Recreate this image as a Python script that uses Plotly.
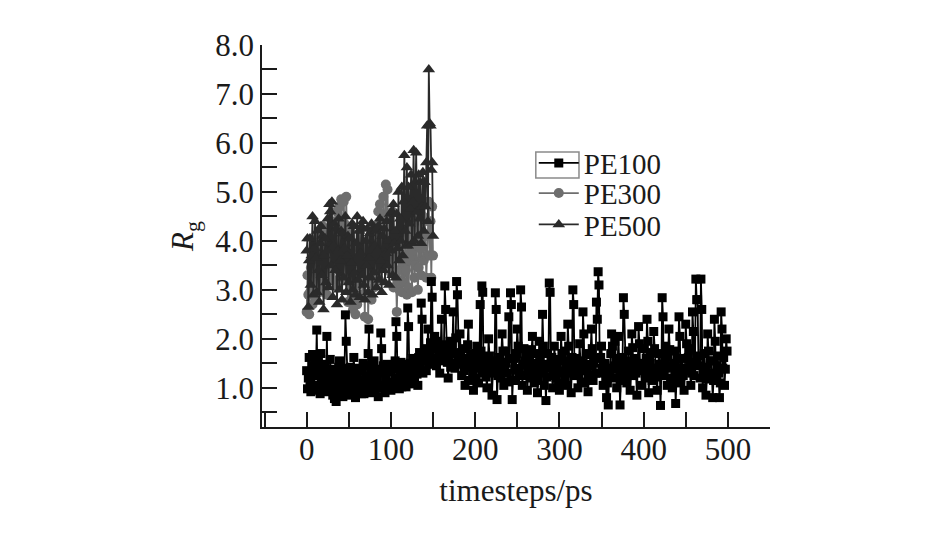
import plotly.graph_objects as go

# ---------------- data (1 ps sampling) ----------------
pe100 = [
    1.35, 0.98, 1.20, 1.62, 1.10, 0.92, 1.45, 1.68, 1.25, 0.95, 1.52, 1.30, 2.18, 1.05, 1.62, 1.45, 0.88, 1.70, 1.12, 1.38,
    1.25, 1.02, 1.48, 0.92, 2.05, 1.12, 1.35, 0.95, 1.58, 1.20, 1.38, 0.85, 1.15, 0.78, 1.30, 0.72, 1.05, 1.20, 1.42, 1.55,
    0.90, 1.18, 1.28, 0.82, 1.05, 1.40, 2.49, 1.95, 1.15, 0.98, 0.85, 1.25, 1.42, 0.90, 1.00, 1.35, 1.62, 1.08, 0.80, 1.22,
    1.18, 0.92, 1.40, 1.05, 1.35, 0.88, 1.08, 1.50, 0.88, 1.15, 1.45, 0.96, 1.02, 1.70, 2.20, 1.10, 1.32, 0.90, 1.18, 1.42,
    1.55, 0.95, 1.25, 1.10, 1.22, 0.82, 1.38, 1.00, 2.12, 1.80, 1.05, 1.45, 1.30, 0.90, 1.15, 1.48, 1.05, 1.32, 1.12, 0.98,
    0.95, 1.42, 1.38, 1.08, 1.05, 1.55, 2.35, 2.05, 1.20, 1.45, 0.98, 1.30, 1.52, 1.02, 1.10, 1.48, 1.30, 1.18, 1.02, 1.40,
    2.63, 2.25, 1.25, 1.50, 1.08, 1.35, 1.60, 1.22, 1.15, 1.55, 1.40, 1.28, 1.05, 1.62, 1.72, 1.45, 2.73, 2.40, 1.30, 1.58,
    1.55, 1.80, 1.35, 1.62, 2.20, 1.48, 1.70, 1.92, 3.17, 2.85, 1.60, 1.82, 2.05, 1.55, 1.45, 1.95, 1.85, 1.62, 1.30, 1.75,
    2.40, 1.65, 1.55, 1.88, 3.08, 2.60, 1.75, 1.52, 1.20, 1.68, 1.95, 1.42, 1.50, 1.85, 2.55, 1.70, 1.40, 2.02, 3.17, 2.90,
    1.65, 1.48, 2.10, 1.72, 1.25, 1.60, 1.80, 1.35, 1.05, 1.50, 1.55, 1.88, 2.30, 1.42, 1.15, 1.62, 1.70, 1.30, 0.95, 1.45,
    1.45, 1.20, 1.85, 1.58, 1.10, 1.40, 2.70, 1.75, 3.08, 2.95, 1.30, 1.55, 1.60, 1.22, 1.00, 1.38, 2.00, 1.65, 1.35, 1.48,
    0.85, 1.30, 1.55, 1.40, 2.94, 2.60, 0.76, 1.25, 1.45, 1.62, 1.20, 1.52, 2.10, 1.75, 1.05, 1.32, 1.75, 1.50, 1.30, 1.12,
    2.45, 1.60, 2.94, 2.70, 0.76, 1.15, 1.60, 1.38, 1.15, 1.70, 2.20, 1.85, 1.40, 1.25, 3.00, 2.65, 1.05, 1.48, 1.80, 1.55,
    1.25, 1.62, 0.95, 1.40, 1.65, 1.20, 1.35, 1.78, 2.05, 1.50, 1.10, 1.32, 1.50, 1.70, 0.90, 1.15, 1.95, 1.60, 1.30, 1.45,
    2.50, 1.85, 1.05, 1.40, 0.74, 1.22, 1.70, 1.48, 3.14, 2.95, 1.40, 1.62, 1.00, 1.25, 1.85, 1.58, 1.20, 1.42, 1.55, 1.10,
    0.95, 1.35, 2.05, 1.70, 1.30, 1.55, 1.75, 1.20, 1.05, 1.45, 2.30, 1.85, 1.45, 1.30, 0.90, 1.62, 3.00, 2.70, 1.25, 1.50,
    1.60, 1.35, 1.00, 1.28, 1.90, 1.55, 1.35, 1.12, 2.55, 2.10, 1.10, 1.48, 1.70, 1.40, 0.92, 1.25, 1.45, 1.68, 2.20, 1.80,
    1.15, 1.50, 1.60, 1.30, 2.75, 2.40, 3.37, 3.10, 1.30, 1.62, 1.85, 1.40, 1.05, 1.32, 1.50, 1.20, 0.80, 1.10, 0.65, 1.25,
    1.40, 1.70, 2.10, 1.85, 1.20, 1.45, 1.95, 1.60, 1.00, 1.38, 2.05, 1.55, 0.65, 1.15, 1.30, 1.62, 2.84, 2.50, 1.45, 1.25,
    1.10, 1.55, 1.75, 1.40, 0.95, 1.28, 2.10, 1.82, 1.25, 1.60, 1.55, 1.30, 0.85, 1.45, 2.25, 1.90, 1.35, 1.50, 1.05, 1.38,
    1.80, 1.45, 1.20, 1.60, 2.40, 1.95, 0.90, 1.30, 1.50, 1.72, 1.15, 1.40, 2.15, 1.80, 1.40, 1.22, 0.95, 1.35, 1.70, 1.48,
    0.64, 1.25, 2.84, 2.45, 1.25, 1.55, 1.85, 1.40, 1.05, 1.62, 2.20, 1.78, 1.45, 1.20, 1.00, 1.42, 1.75, 1.50, 0.68, 1.15,
    1.30, 1.58, 2.45, 2.05, 1.10, 1.40, 1.60, 1.25, 0.95, 1.35, 2.30, 1.90, 1.35, 1.62, 1.80, 1.45, 1.05, 1.30, 2.55, 2.15,
    1.25, 1.52, 3.22, 2.80, 2.80, 1.65, 1.45, 1.20, 3.22, 2.60, 1.00, 1.35, 1.70, 1.42, 0.85, 1.18, 2.10, 1.75, 1.30, 1.55,
    1.55, 1.28, 0.80, 1.15, 2.40, 1.95, 1.15, 1.45, 1.65, 1.30, 0.80, 1.10, 2.55, 2.20, 1.40, 1.62, 1.05, 1.38, 2.00, 1.75,
]
t_pe100 = list(range(len(pe100)))

pe300 = [
    2.55, 3.30, 2.90, 2.50, 2.95, 3.45, 3.60, 2.70, 3.10, 3.85, 2.85, 3.25, 3.40, 4.05, 3.60, 2.95, 3.75, 3.20, 3.10, 4.30,
    3.00, 3.55, 3.90, 4.20, 2.90, 3.35, 4.10, 3.60, 3.35, 3.80, 4.30, 3.40, 3.20, 4.40, 3.70, 4.60, 4.15, 3.05, 3.55, 4.70,
    3.75, 4.85, 4.40, 3.60, 4.80, 4.35, 3.20, 4.90, 3.75, 2.75, 4.20, 3.60, 3.10, 3.70, 2.85, 2.60, 3.95, 3.30, 2.50, 3.30,
    2.70, 3.10, 3.85, 3.15, 3.55, 4.25, 2.90, 3.25, 3.60, 2.45, 3.80, 3.25, 3.90, 2.40, 3.50, 4.10, 3.35, 2.80, 3.70, 4.20,
    3.05, 3.60, 4.30, 3.45, 3.95, 4.60, 3.20, 4.75, 4.40, 3.45, 4.10, 4.90, 4.30, 3.85, 5.15, 4.35, 5.05, 3.50, 4.40, 3.95,
    3.35, 4.05, 4.60, 3.05, 3.70, 4.15, 3.40, 2.55, 3.20, 3.70, 3.00, 3.65, 4.25, 2.95, 3.40, 3.55, 3.15, 4.10, 3.40, 2.90,
    4.45, 3.05, 3.60, 4.65, 3.70, 2.95, 3.80, 4.20, 3.25, 3.50, 4.40, 3.90, 3.00, 3.45, 4.60, 3.85, 3.30, 4.05, 4.50, 3.60,
    4.80, 4.10, 3.25, 3.70, 4.40, 4.80, 3.70, 4.40, 3.25, 4.70, 3.70,
]
t_pe300 = list(range(len(pe300)))

pe500 = [
    3.80, 4.05, 2.65, 3.60, 4.05, 3.10, 3.70, 4.50, 2.90, 3.85, 4.40, 3.65, 2.95, 4.20, 3.40, 2.75, 3.95, 4.30, 3.30, 4.10,
    2.60, 3.70, 4.05, 3.15, 3.80, 4.45, 3.05, 4.75, 4.60, 3.50, 4.80, 2.85, 3.90, 4.35, 3.40, 4.25, 2.70, 3.80, 4.45, 3.00,
    3.60, 4.20, 2.80, 4.15, 3.25, 3.85, 4.50, 2.95, 3.70, 4.10, 3.15, 4.05, 2.75, 3.55, 4.35, 3.00, 4.30, 3.35, 2.90, 3.95,
    4.50, 3.20, 4.20, 2.85, 3.75, 4.30, 3.30, 4.40, 3.10, 2.80, 4.00, 3.50, 4.25, 2.95, 3.65, 4.15, 3.25, 4.35, 2.90, 4.25,
    3.35, 3.90, 4.20, 3.05, 3.80, 4.30, 3.20, 4.45, 3.60, 2.95, 4.10, 3.40, 4.25, 3.15, 3.75, 4.40, 3.50, 4.00, 3.10, 4.55,
    3.80, 4.60, 3.30, 4.75, 3.95, 4.20, 3.25, 4.55, 3.85, 5.00, 3.60, 4.45, 4.00, 5.10, 3.70, 4.80, 5.75, 4.20, 3.90, 5.50,
    3.90, 5.10, 4.35, 4.65, 5.35, 3.95, 4.80, 5.85, 4.00, 5.20, 5.80, 4.60, 4.10, 5.35, 4.45, 5.20, 3.95, 4.70, 5.40, 4.20,
    5.20, 4.70, 5.60, 6.35, 4.40, 7.50, 6.40, 6.35, 5.45, 5.60, 4.10,
]
t_pe500 = list(range(len(pe500)))

series_names = ["PE100", "PE300", "PE500"]
x_tickvals = [0, 100, 200, 300, 400, 500]
y_tickvals = [1.0, 2.0, 3.0, 4.0, 5.0, 6.0, 7.0, 8.0]
y_ticktext = ["1.0", "2.0", "3.0", "4.0", "5.0", "6.0", "7.0", "8.0"]

FONT = "Liberation Serif, Times New Roman, serif"
AX = "#1a1a1a"

fig = go.Figure()

fig.add_trace(go.Scatter(
    x=t_pe300, y=pe300, name=series_names[1], mode="lines+markers",
    line=dict(color="#6e6e6e", width=1.8),
    marker=dict(symbol="circle", size=10, color="#6e6e6e"),
    legend="legend2",
))
fig.add_trace(go.Scatter(
    x=t_pe500, y=pe500, name=series_names[2], mode="lines+markers",
    line=dict(color="#2a2a2a", width=1.8),
    marker=dict(symbol="triangle-up", size=11, color="#2a2a2a"),
    legend="legend3",
))
fig.add_trace(go.Scatter(
    x=t_pe100, y=pe100, name=series_names[0], mode="lines+markers",
    line=dict(color="#000000", width=1.8),
    marker=dict(symbol="square", size=9, color="#000000"),
    legend="legend",
))

leg_common = dict(xanchor="left", yanchor="middle", bgcolor="rgba(0,0,0,0)",
                  font=dict(size=29, family=FONT, color=AX), itemwidth=40)

fig.update_layout(
    width=945, height=544,
    margin=dict(l=254, r=183, t=37, b=125),
    paper_bgcolor="white", plot_bgcolor="white",
    font=dict(family=FONT, size=31, color=AX),
    showlegend=True,
    legend=dict(x=0.535, y=0.691, **leg_common),
    legend2=dict(x=0.535, y=0.612, **leg_common),
    legend3=dict(x=0.535, y=0.530, **leg_common),
    shapes=[dict(type="rect", xref="paper", yref="paper",
                 x0=0.539, x1=0.624, y0=0.652, y1=0.720,
                 line=dict(color="#8a8a8a", width=1.5))],
    xaxis=dict(
        range=[-53, 550], showgrid=False, zeroline=False,
        showline=True, linecolor=AX, linewidth=1.5,
        tickmode="array", tickvals=x_tickvals,
        ticks="inside", ticklen=15, tickwidth=1.5, tickcolor=AX,
        minor=dict(dtick=50, tick0=0, ticks="inside", ticklen=15, tickwidth=1.5, tickcolor=AX),
        tickfont=dict(size=31, family=FONT), ticklabelstandoff=-6,
        title=dict(text="timesteps/ps", font=dict(size=31, family=FONT), standoff=13),
    ),
    yaxis=dict(
        range=[0.2, 8.0], showgrid=False, zeroline=False,
        showline=True, linecolor=AX, linewidth=1.5,
        tickmode="array", tickvals=y_tickvals, ticktext=y_ticktext,
        ticks="inside", ticklen=15, tickwidth=1.5, tickcolor=AX,
        minor=dict(dtick=0.5, tick0=0, ticks="inside", ticklen=15, tickwidth=1.5, tickcolor=AX),
        tickfont=dict(size=31, family=FONT),
        title=dict(text="<i>R</i><sub>g</sub>", font=dict(size=31, family=FONT), standoff=12),
    ),
)

fig.write_html("out.html")
